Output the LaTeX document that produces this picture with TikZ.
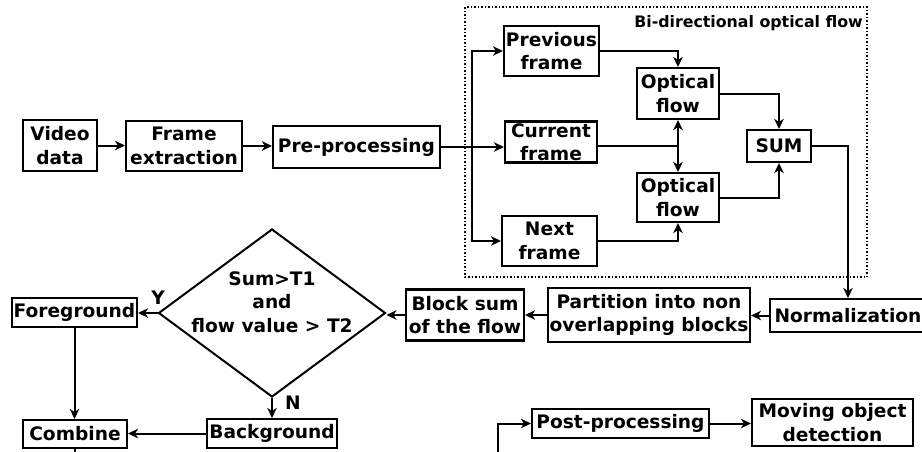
\documentclass[tikz,border=0pt]{standalone}
\usepackage{fontspec}
\setmainfont{DejaVu Sans}
\usetikzlibrary{arrows.meta,shapes.geometric}
\begin{document}
\begin{tikzpicture}[x=1pt,y=-1pt,
  box/.style={draw,line width=2.1pt,inner sep=0pt,align=center,font=\fontsize{18.6}{23.5}\selectfont\bfseries},
  arr/.style={line width=2pt,-{Stealth[length=10pt,width=9.5pt,inset=3pt]}},
  ln/.style={line width=2pt},
  lbl/.style={font=\fontsize{18.6}{23.5}\selectfont\bfseries,inner sep=0pt}]
\useasboundingbox (0,0) rectangle (922,451);
% dotted group
\draw[dotted,line width=1.5pt] (465,7) rectangle (867,277);
\node[font=\fontsize{15.8}{18}\selectfont\bfseries,anchor=east,inner sep=0pt] (title) at (863,23) {Bi-directional optical flow};
% nodes
\node[box,minimum width=74,minimum height=51] (vid) at (60,145.5) {Video\\data};
\node[box,minimum width=116,minimum height=50] (fe) at (184,146) {Frame\\extraction};
\node[box,minimum width=167,minimum height=42] (pre) at (356.5,147) {Pre-processing};
\node[box,minimum width=95,minimum height=50] (prev) at (551.5,51) {Previous\\frame};
\node[box,minimum width=92,minimum height=41] (cur) at (551,142) {Current\\frame};
\node[box,minimum width=95,minimum height=50] (next) at (549.5,241) {Next\\frame};
\node[box,minimum width=82,minimum height=51] (of1) at (678,93.5) {Optical\\flow};
\node[box,minimum width=82,minimum height=49] (of2) at (678,197.5) {Optical\\flow};
\node[box,minimum width=64,minimum height=32] (sum) at (779,146) {SUM};
\node[box,minimum width=156,minimum height=33] (norm) at (848,315.5) {Normalization};
\node[box,minimum width=202,minimum height=54] (part) at (649,315) {Partition into non\\overlapping blocks};
\node[box,minimum width=118,minimum height=51] (blk) at (465,315) {Block sum\\of the flow};
\node[draw,line width=2pt,shape=diamond,inner sep=0pt,minimum width=227,minimum height=168] (dec) at (272,313) {};
\node[lbl,align=center] (dect) at (272,302) {Sum>T1\\and\\flow value > T2};
\node[box,minimum width=125,minimum height=29] (fg) at (74.5,312.5) {Foreground};
\node[box,minimum width=130,minimum height=29] (bg) at (272,433.5) {Background};
\node[box,minimum width=104,minimum height=28] (comb) at (75,434) {Combine};
\node[box,minimum width=177,minimum height=29] (post) at (620.5,423.5) {Post-processing};
\node[box,minimum width=161,minimum height=47] (mov) at (832.5,422.5) {Moving object\\detection};
\node[lbl] (ylab) at (158,298) {Y};
\node[lbl] (nlab) at (293,403) {N};
% coordinates
\coordinate (br) at (472,147);
\coordinate (j) at (678,146);
\coordinate (c1) at (75,455);
\coordinate (c2) at (498,455);
% connectors
\draw[arr] (vid.east) -- (fe.west |- vid.east);
\draw[arr] (fe.east) -- (pre.west |- fe.east);
\draw[arr] (pre.east) -- (cur.west |- pre.east);
\draw[ln] (472,51) -- (472,241);
\draw[arr] (br) |- (prev.west);
\draw[arr] (br) |- (next.west);
\draw[arr] (prev.east) -| (of1.north);
\draw[ln] (j -| cur.east) -- (j);
\draw[arr] (j) -- (of1.south);
\draw[arr] (j) -- (of2.north);
\draw[arr] (next.east) -| (of2.south);
\draw[arr] (of1.east) -| (sum.north);
\draw[arr] (of2.east) -| (sum.south);
\draw[arr] (sum.east) -| (norm.north);
\draw[arr] (norm.west) -- (part.east |- norm.west);
\draw[arr] (part.west) -- (blk.east |- part.west);
\draw[arr] (blk.west) -- (dec.east |- blk.west);
\draw[arr] (dec.west) -- (fg.east |- dec.west);
\draw[arr] (dec.south) -- (bg.north);
\draw[arr] (fg.south) -- (comb.north -| fg.south);
\draw[arr] (bg.west) -- (comb.east |- bg.west);
\draw[ln] (comb.south) -- (c1);
\draw[arr] (c2) |- (post.west);
\draw[arr] (post.east) -- (mov.west |- post.east);
\end{tikzpicture}
\end{document}
